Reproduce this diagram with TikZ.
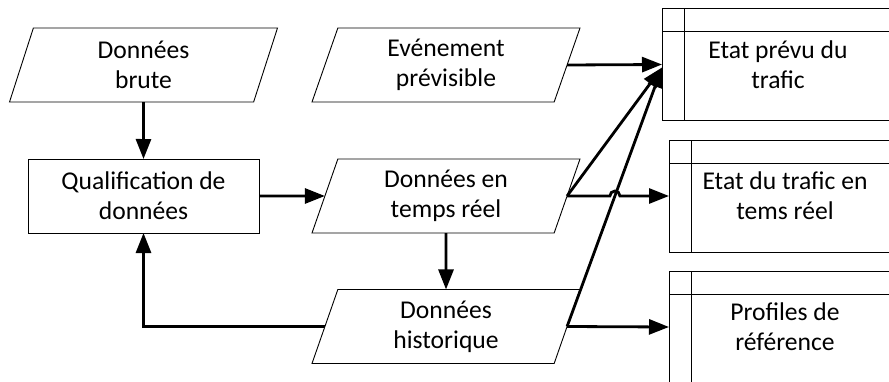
\documentclass[tikz,border=0pt]{standalone}
\usepackage{fontspec}
\setmainfont{Carlito}
\usetikzlibrary{shapes.geometric,arrows.meta}
\begin{document}
\begin{tikzpicture}[x=1pt,y=1pt,
  txt/.style={align=center, font=\fontsize{25.6}{30}\selectfont},
  para/.style={trapezium, trapezium left angle=63.4, trapezium right angle=116.6, trapezium stretches body, draw, line width=0.9pt, minimum width=268pt, minimum height=74pt, inner sep=0pt, outer sep=0pt, txt},
  proc/.style={rectangle, draw, line width=0.9pt, minimum width=231pt, minimum height=74pt, inner sep=0pt, outer sep=0pt, txt},
  store/.style={rectangle, draw, line width=0.9pt, minimum width=232pt, minimum height=112pt, inner sep=0pt, outer sep=0pt, txt},
  storeline/.style={line width=0.9pt},
  flow/.style={line width=2.8pt, -{Triangle[length=20pt,width=15pt]}}
]
\useasboundingbox (0,0) rectangle (889,381);
\clip (0,0) rectangle (889,381);

\node[para] (brute) at (143.5,316) {Données\\brute};
\node[proc] (qual) at (143.5,185) {Qualification de\\données};
\node[para] (even) at (446,316) {Evénement\\prévisible};
\node[para] (tr) at (446,185) {Données en\\temps réel};
\node[para] (hist) at (446,54.5) {Données\\historique};

\node[store] (prevu) at (778,316.5) {Etat prévu du\\trafic};
\node[store] (trafic) at (785,185) {Etat du trafic en\\tems réel};
\node[store] (prof) at (785,54) {Profiles de\\référence};

\foreach \s in {prevu,trafic,prof}{
  \draw[storeline] ([yshift=-23pt]\s.north west) -- ([yshift=-23pt]\s.north east);
  \draw[storeline] ([xshift=22pt]\s.north west) -- ([xshift=22pt]\s.south west);
}

\coordinate (pv) at ([yshift=-3pt]prevu.west);
\coordinate (J) at (intersection of tr.east--trafic.west and hist.east--pv);

\draw[flow] (brute.south) -- (qual.north);
\draw[flow] (qual.east) -- (tr.west);
\draw[flow] (tr.south) -- (hist.north);
\draw[flow] (hist.west) -| (qual.south);
\draw[flow] (even.east) -- (prevu.west);
\draw[flow] (tr.east) -- (pv);
\draw[flow] (hist.east) -- (pv);
\draw[flow] (tr.east) -- ([xshift=-5pt]J) arc[start angle=180,end angle=0,radius=5pt] -- (trafic.west);
\draw[flow] (hist.east) -- (prof.west);
\end{tikzpicture}
\end{document}
